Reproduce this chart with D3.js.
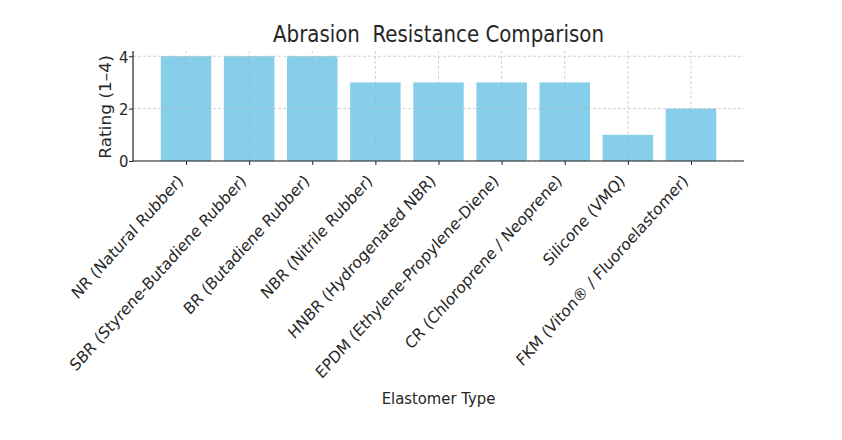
<!DOCTYPE html>
<html>
<head>
<meta charset="utf-8">
<script src="https://cdn.jsdelivr.net/npm/d3@7"></script>
<style>
  body { margin: 0; background: #fff; }
  text { font-family: "DejaVu Sans", sans-serif; fill: #262626; white-space: pre; }
</style>
</head>
<body>
<div id="chart"></div>
<script>
// data
const elastomers = [
    "NR (Natural Rubber)",
    "SBR (Styrene-Butadiene Rubber)",
    "BR (Butadiene Rubber)",
    "NBR (Nitrile Rubber)",
    "HNBR (Hydrogenated NBR)",
    "EPDM (Ethylene-Propylene-Diene)",
    "CR (Chloroprene / Neoprene)",
    "Silicone (VMQ)",
    "FKM (Viton\u00AE / Fluoroelastomer)"
];
const ratings = [4, 4, 4, 3, 3, 3, 3, 1, 2];
const yTicks = [0, 2, 4];

const W = 842, H = 440;
const plotL = 133, plotR = 744, plotT = 51, plotB = 161;
const sx = 0.9;       // text in the reference is a little narrow
const tickFont = 16.5;

const svg = d3.select("#chart").append("svg")
    .attr("width", W)
    .attr("height", H);

// matplotlib-like limits: bars of width 0.8, 5% margin
const x = d3.scaleLinear().domain([-0.84, elastomers.length - 1 + 0.84]).range([plotL, plotR]);
const y = d3.scaleLinear().domain([0, 4.2]).range([plotB, plotT]);
const barW = x(0.8) - x(0);

// bars
svg.selectAll(".bar")
    .data(ratings)
    .enter()
    .append("rect")
    .attr("class", "bar")
    .attr("x", (d, i) => x(i) - barW / 2)
    .attr("width", barW)
    .attr("y", d => y(d))
    .attr("height", d => y(0) - y(d))
    .attr("fill", "#87ceeb");

// grid on top of the bars
const grid = svg.append("g").attr("stroke", "#b0b0b0").attr("stroke-width", 0.8)
    .attr("stroke-dasharray", "3,2").attr("opacity", 0.7);
grid.selectAll(".gy").data(yTicks).enter().append("line")
    .attr("x1", plotL).attr("x2", plotR)
    .attr("y1", d => y(d)).attr("y2", d => y(d));
grid.selectAll(".gx").data(elastomers).enter().append("line")
    .attr("x1", (d, i) => x(i)).attr("x2", (d, i) => x(i))
    .attr("y1", plotT).attr("y2", plotB);

// axes
const xAxis = d3.axisBottom(x)
    .tickValues(d3.range(elastomers.length))
    .tickFormat(i => elastomers[i])
    .tickSize(4);

const gx = svg.append("g")
    .attr("transform", `translate(0,${plotB})`)
    .call(xAxis);
gx.select(".domain").attr("d", `M${plotL},0H${plotR}`).attr("stroke", "#222").attr("stroke-width", 1.2);
gx.selectAll(".tick line").attr("stroke", "#222");
gx.selectAll(".tick text")
    .attr("font-size", tickFont)
    .attr("text-anchor", "end")
    .attr("x", 0)
    .attr("y", 0)
    .attr("dy", null)
    .attr("transform", `translate(-2.5,${10 + 0.707 * 0.93 * tickFont}) scale(${sx},1) rotate(-45)`);

const yAxis = d3.axisLeft(y).tickValues(yTicks).tickFormat(d3.format("d")).tickSize(4);
const gy = svg.append("g")
    .attr("transform", `translate(${plotL},0)`)
    .call(yAxis);
gy.select(".domain").attr("d", `M0,${plotT}V${plotB}`).attr("stroke", "#222").attr("stroke-width", 1.2);
gy.selectAll(".tick line").attr("stroke", "#222");
gy.selectAll(".tick text")
    .attr("font-size", tickFont)
    .attr("x", null)
    .attr("dy", null)
    .attr("dominant-baseline", "central")
    .attr("transform", `translate(-4.5,0) scale(${sx},1)`);

svg.selectAll(".domain").attr("fill", "none");
svg.selectAll(".tick text").style("font-family", "DejaVu Sans").attr("fill", "#262626");

// titles
svg.append("text")
    .attr("text-anchor", "middle")
    .attr("transform", `translate(${(plotL + plotR) / 2},42) scale(0.88,1)`)
    .attr("font-size", 22.5)
    .text("Abrasion  Resistance Comparison");

svg.append("text")
    .attr("text-anchor", "middle")
    .attr("transform", `translate(${(plotL + plotR) / 2},404) scale(${sx},1)`)
    .attr("font-size", tickFont)
    .text("Elastomer Type");

svg.append("text")
    .attr("text-anchor", "middle")
    .attr("transform", `translate(111,${(plotT + plotB) / 2 + 1}) scale(${sx},1) rotate(-90)`)
    .attr("font-size", 17)
    .text("Rating (1\u20134)");
</script>
</body>
</html>
